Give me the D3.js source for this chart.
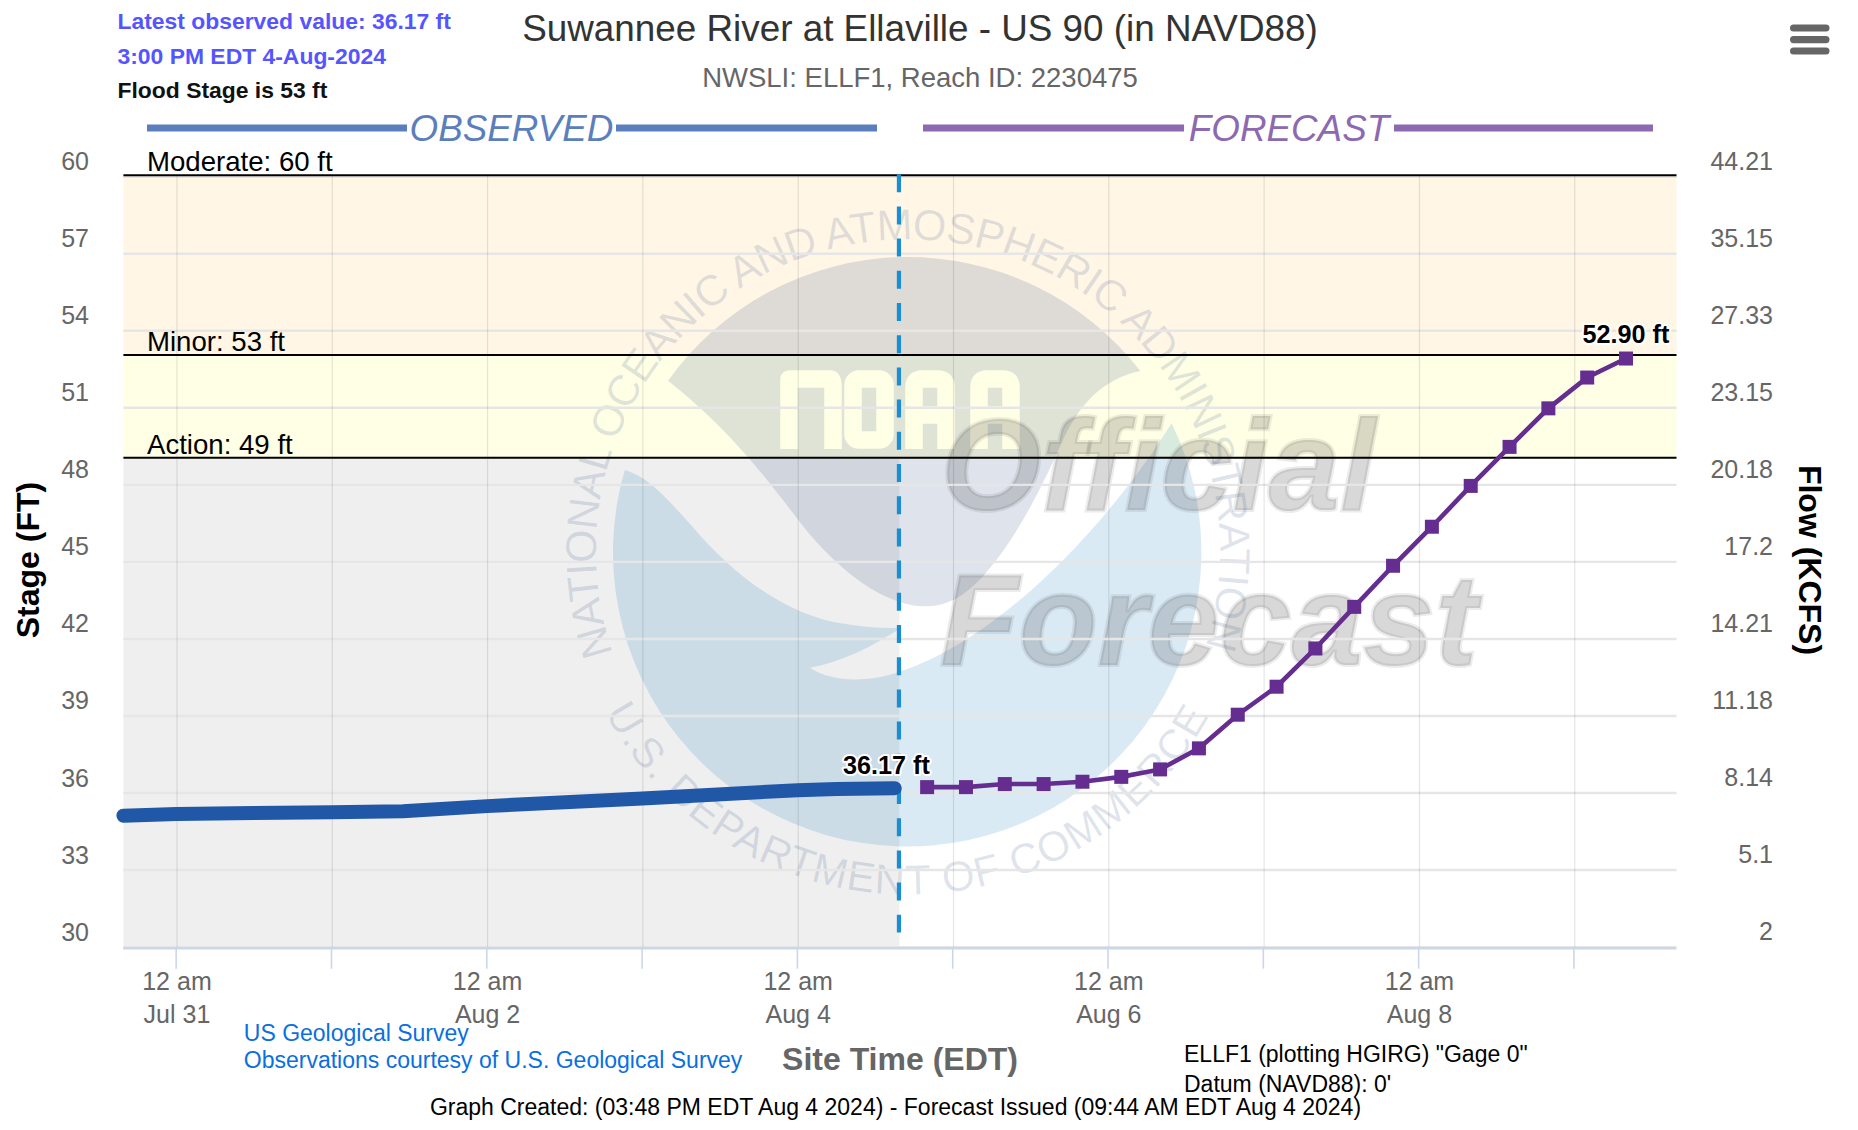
<!DOCTYPE html>
<html><head><meta charset="utf-8">
<script src="https://cdn.jsdelivr.net/npm/d3@7/dist/d3.min.js"></script>
<style>
html,body{margin:0;padding:0;background:#fff}
svg{display:block}
text{font-family:"Liberation Sans",Arial,sans-serif}
</style></head><body><svg id="c" width="1858" height="1130"></svg>
<script>
const stageTicks=[60,57,54,51,48,45,42,39,36,33,30];
const flowTicks=["44.21","35.15","27.33","23.15","20.18","17.2","14.21","11.18","8.14","5.1","2"];
const dayTicks=["2024-07-31","2024-08-01","2024-08-02","2024-08-03","2024-08-04","2024-08-05","2024-08-06","2024-08-07","2024-08-08","2024-08-09"];
const dayLabels=["Jul 31","","Aug 2","","Aug 4","","Aug 6","","Aug 8",""];
const obsTimes=["2024-07-30T15:48","2024-07-31T00:00","2024-07-31T12:00","2024-08-01T00:00","2024-08-01T11:00","2024-08-02T00:00","2024-08-03T00:00","2024-08-04T00:00","2024-08-04T06:00","2024-08-04T15:00"];
const obsStage=[35.10,35.16,35.20,35.23,35.27,35.47,35.77,36.09,36.14,36.17];
const fcstTimes=["2024-08-04T20:00","2024-08-05T02:00","2024-08-05T08:00","2024-08-05T14:00","2024-08-05T20:00","2024-08-06T02:00","2024-08-06T08:00","2024-08-06T14:00","2024-08-06T20:00","2024-08-07T02:00","2024-08-07T08:00","2024-08-07T14:00","2024-08-07T20:00","2024-08-08T02:00","2024-08-08T08:00","2024-08-08T14:00","2024-08-08T20:00","2024-08-09T02:00","2024-08-09T08:00"];
const fcstStage=[36.21,36.21,36.33,36.33,36.42,36.61,36.90,37.72,39.03,40.12,41.61,43.23,44.83,46.35,47.94,49.46,50.96,52.16,52.90];
const thresholds=[{name:"Moderate: 60 ft",v:60},{name:"Minor: 53 ft",v:53},{name:"Action: 49 ft",v:49}];
const timeDomain=["2024-07-30T15:48","2024-08-09T15:48"];
const nowTime="2024-08-04T15:48";

const T=s=>new Date(s.length===10?s+"T00:00Z":s+"Z");
const L=123.4,R=1676.5;
const x=d3.scaleUtc().domain(timeDomain.map(T)).range([L,R]);
const y=d3.scaleLinear().domain([30,60]).range([946.6,176.2]);
const svg=d3.select("#c");
const FG="#666666";

// bands
function band(v0,v1,c,x0=L,x1=R){svg.append("rect").attr("x",x0).attr("width",x1-x0).attr("y",y(v1)).attr("height",y(v0)-y(v1)).attr("fill",c);}
band(53,60,"#fff6e6");
band(49,53,"#ffffe5");
svg.append("rect").attr("x",L).attr("width",x(T(nowTime))-L-0.6).attr("y",y(49)).attr("height",947-y(49)).attr("fill","#efefef");

// NOAA watermark (background picture)
const defs=svg.append("defs");
const cx=908,cy=551.5;
const rT=312,rB=343;
defs.append("path").attr("id","arcTop").attr("d",`M${cx-rT*Math.cos(19*Math.PI/180)},${cy+rT*Math.sin(19*Math.PI/180)} A${rT},${rT} 0 1 1 ${cx+rT*Math.cos(18*Math.PI/180)},${cy+rT*Math.sin(18*Math.PI/180)}`);
defs.append("path").attr("id","arcBot").attr("d",`M${cx-rB*Math.sin(62*Math.PI/180)},${cy+rB*Math.cos(62*Math.PI/180)} A${rB},${rB} 0 0 0 ${cx+rB*Math.sin(62*Math.PI/180)},${cy+rB*Math.cos(62*Math.PI/180)}`);
const mask=defs.append("mask").attr("id","noaaHole").attr("maskUnits","userSpaceOnUse").attr("x",0).attr("y",0).attr("width",1858).attr("height",1130);
mask.append("rect").attr("width",1858).attr("height",1130).attr("fill","#fff");
const holes=mask.append("g").attr("fill","none").attr("stroke","#000").attr("stroke-width",17.5).attr("stroke-linejoin","round");
const hy0=379,hy1=449;
holes.append("path").attr("d",`M789,${hy1} V${hy0} H830 Q 833,${hy0} 833,${hy0+8} V${hy1}`);
holes.append("rect").attr("x",853).attr("y",hy0).attr("width",32).attr("height",hy1-hy0-9).attr("rx",6);
[[914,946],[979,1011]].forEach(([a,b])=>{
  holes.append("path").attr("d",`M${a},${hy1} V${hy0+8} Q${a},${hy0} ${a+8},${hy0} H${b-8} Q${b},${hy0} ${b},${hy0+8} V${hy1} M${a},${hy0+36} H${b}`);
});
const logo=svg.append("g").attr("transform","translate(560,200) scale(0.44643)");
logo.append("path").attr("fill","rgb(0,114,188)").attr("fill-opacity",0.15)
 .attr("d","M145,605 C200,620 240,670 300,735 C380,830 500,930 640,950 C690,958 730,960 765,958 C700,1000 630,1035 560,1048 C600,1075 660,1080 720,1068 C800,1050 900,1000 1000,920 C1130,820 1270,660 1370,500 A659,659 0 1 1 145,605 Z");
svg.append("g").attr("mask","url(#noaaHole)").append("path").attr("transform","translate(560,200) scale(0.44643)")
 .attr("fill","rgb(0,40,110)").attr("fill-opacity",0.13)
 .attr("d","M242,405 A659,659 0 0 1 1300,383 C1220,400 1170,450 1130,530 C1090,620 1030,750 950,840 C900,895 860,912 810,910 C720,905 630,830 560,750 C480,650 400,530 242,405 Z");
const ringText=(id,txt,len,fs)=>svg.append("text").attr("font-size",fs).attr("fill","rgb(0,40,110)").attr("fill-opacity",0.13)
  .append("textPath").attr("href","#"+id).attr("textLength",len).attr("lengthAdjust","spacing").text(txt);
ringText("arcTop","NATIONAL OCEANIC AND ATMOSPHERIC ADMINISTRATION",1180,43);
ringText("arcBot","U.S. DEPARTMENT OF COMMERCE",738,42);
[["Official",941,510],["Forecast",940,665]].forEach(([t,a,b])=>{
  svg.append("text").attr("x",a).attr("y",b).attr("font-size",129).attr("font-weight","bold").attr("font-style","italic")
   .attr("fill","rgb(70,70,70)").attr("fill-opacity",0.21).attr("stroke","rgb(70,70,70)").attr("stroke-opacity",0.1).attr("stroke-width",4).text(t);
});

// grid
svg.append("g").call(d3.axisLeft(y).tickValues(stageTicks).tickSize(L-R).tickFormat(""))
 .attr("transform",`translate(${L},0)`)
 .call(g=>{g.select(".domain").remove();g.selectAll("line").attr("stroke","#e6e6e6").attr("stroke-width",2.4);});
svg.append("g").call(d3.axisBottom(x).tickValues(dayTicks.map(T)).tickSize(947-176).tickFormat(""))
 .attr("transform","translate(0,176)")
 .call(g=>{g.select(".domain").remove();g.selectAll("line").attr("stroke","rgba(0,0,0,0.1)").attr("stroke-width",1.2);});

// thresholds
thresholds.forEach(t=>{
  svg.append("line").attr("x1",L).attr("x2",R).attr("y1",y(t.v)-1).attr("y2",y(t.v)-1).attr("stroke","#000").attr("stroke-width",2);
  svg.append("text").attr("x",147).attr("y",y(t.v)-5).attr("font-size",27.6).attr("fill","#000").text(t.name);
});

// bottom axis
svg.append("g").attr("transform","translate(-0.8,947.7)")
 .call(d3.axisBottom(x).tickValues(dayTicks.map(T)).tickSize(21).tickSizeOuter(0).tickFormat(""))
 .call(g=>{g.select(".domain").attr("stroke","#ccd6eb").attr("stroke-width",2.4);g.selectAll("line").attr("stroke","#ccd6eb").attr("stroke-width",1.6);});
dayTicks.forEach((d,i)=>{
  if(!dayLabels[i])return;
  svg.append("text").attr("x",x(T(d))+0.5).attr("y",989.5).attr("text-anchor","middle").attr("font-size",25).attr("fill",FG).text("12 am");
  svg.append("text").attr("x",x(T(d))+0.5).attr("y",1022.5).attr("text-anchor","middle").attr("font-size",25).attr("fill",FG).text(dayLabels[i]);
});
// y labels
svg.append("g").attr("transform","translate(89,0)").call(d3.axisLeft(y).tickValues(stageTicks).tickSize(0).tickPadding(0))
 .call(g=>{g.select(".domain").remove();g.selectAll("text").attr("font-size",25).attr("font-family",null).attr("fill",FG).attr("dy",null).attr("y",-6.5);});
stageTicks.forEach((v,i)=>svg.append("text").attr("x",1773).attr("y",y(v)-6.5).attr("text-anchor","end").attr("font-size",25).attr("fill",FG).text(flowTicks[i]));

// series
const line=d3.line().x(d=>x(d.t)).y(d=>y(d.v));
const obs=obsTimes.map((t,i)=>({t:T(t),v:obsStage[i]}));
const fc=fcstTimes.map((t,i)=>({t:T(t),v:fcstStage[i]}));
svg.append("line").attr("x1",x(T(nowTime))-1).attr("x2",x(T(nowTime))-1).attr("y1",y(60)-2).attr("y2",y(30.55))
 .attr("stroke","#1a8dd4").attr("stroke-width",4.2).attr("stroke-dasharray","18 14.2");
svg.append("path").attr("d",line(obs)).attr("fill","none").attr("stroke","#2057a7").attr("stroke-width",14).attr("stroke-linecap","round").attr("stroke-linejoin","round");
svg.append("path").attr("d",line(fc)).attr("fill","none").attr("stroke","#652d90").attr("stroke-width",4.6);
svg.append("g").selectAll("rect").data(fc).join("rect").attr("x",d=>x(d.t)-7).attr("y",d=>y(d.v)-7).attr("width",14).attr("height",14).attr("fill","#652d90");
// value labels
[[obs[obs.length-1],886.5,774],[fc[fc.length-1],1626,343]].forEach(([d,a,b])=>{
  svg.append("text").attr("x",a).attr("y",b).attr("text-anchor","middle").attr("font-size",25.2).attr("font-weight","bold")
   .attr("fill","#000").attr("stroke","#fff").attr("stroke-width",4).attr("stroke-linejoin","round").attr("paint-order","stroke")
   .text(d.v.toFixed(2)+" ft");
});

// header bars
function bar(x1,x2,gap1,gap2,c,label){
  svg.append("line").attr("x1",x1).attr("x2",gap1).attr("y1",128).attr("y2",128).attr("stroke",c).attr("stroke-width",7);
  svg.append("line").attr("x1",gap2).attr("x2",x2).attr("y1",128).attr("y2",128).attr("stroke",c).attr("stroke-width",7);
  svg.append("text").attr("x",(gap1+gap2)/2).attr("y",141).attr("text-anchor","middle").attr("font-size",36.8).attr("font-style","italic").attr("fill",c).text(label);
}
bar(147,877,407,616,"#5b7fbd","OBSERVED");
bar(923,1653,1184,1394,"#8c69b0","FORECAST");

// texts
const tx=(s,a,b,fs,c,o={})=>{const e=svg.append("text").attr("x",a).attr("y",b).attr("font-size",fs).attr("fill",c).text(s);Object.entries(o).forEach(([k,v])=>e.attr(k,v));return e;};
tx("Suwannee River at Ellaville - US 90 (in NAVD88)",920,41,36.85,"#333333",{"text-anchor":"middle"});
tx("NWSLI: ELLF1, Reach ID: 2230475",920,87,27.5,FG,{"text-anchor":"middle"});
tx("Latest observed value: 36.17 ft",117.5,29,22.9,"#5555ff",{"font-weight":"bold"});
tx("3:00 PM EDT 4-Aug-2024",117.5,64,22.9,"#5555ff",{"font-weight":"bold"});
tx("Flood Stage is 53 ft",117.5,98,22.9,"#111111",{"font-weight":"bold"});
tx("Stage (FT)",0,0,32,"#000",{"font-weight":"bold","text-anchor":"middle",transform:"translate(39,560) rotate(-90)"});
tx("Flow (KCFS)",0,0,32,"#000",{"font-weight":"bold","text-anchor":"middle",transform:"translate(1799,560) rotate(90)"});
tx("Site Time (EDT)",900,1070,32,FG,{"font-weight":"bold","text-anchor":"middle"});
tx("US Geological Survey",243.8,1041,23,"#0a6fe0");
tx("Observations courtesy of U.S. Geological Survey",243.8,1068,23,"#0a6fe0");
tx('ELLF1 (plotting HGIRG) "Gage 0"',1184,1062,23,"#000");
tx("Datum (NAVD88): 0'",1184,1092,23,"#000");
tx("Graph Created: (03:48 PM EDT Aug 4 2024) - Forecast Issued (09:44 AM EDT Aug 4 2024)",895.5,1115,23,"#000",{"text-anchor":"middle"});
// menu icon
[28,39.6,51].forEach(b=>svg.append("rect").attr("x",1790).attr("y",b-3.6).attr("width",39.5).attr("height",7.2).attr("rx",3.6).attr("fill",FG));
</script></body></html>
